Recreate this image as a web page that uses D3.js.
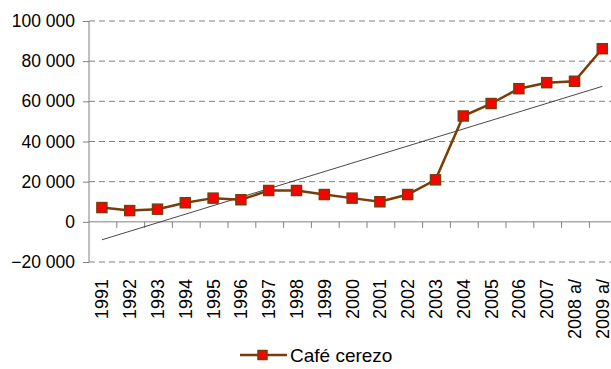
<!DOCTYPE html>
<html><head><meta charset="utf-8">
<script src="https://cdn.jsdelivr.net/npm/d3@7"></script>
<style>body{margin:0;background:#fff}svg{display:block;font-family:"Liberation Sans",Arial,sans-serif}</style>
</head><body>
<svg id="c" width="611" height="369"></svg>
<script>
const categories = ["1991","1992","1993","1994","1995","1996","1997","1998","1999","2000","2001","2002","2003","2004","2005","2006","2007","2008 a/","2009 a/"];
const values = [7100,5600,6300,9500,11800,11000,15600,15600,13600,11800,10000,13600,20900,52700,58900,66300,69300,70000,86200];
const yTicks = [-20000,0,20000,40000,60000,80000,100000];
const seriesName = "Café cerezo";

const svg = d3.select("#c");
const brown = "#7a3c08";
const x = d3.scaleBand().domain(categories).range([89, 89 + 19*27.8]).padding(0);
const y = d3.scaleLinear().domain([-20000,100000]).range([262, 21]);
const fmt = v => d3.format(",")(v).replace(/,/g, " ");

// gridlines
svg.append("g").selectAll("line").data(yTicks.filter(t => t !== 0)).join("line")
  .attr("x1", 89).attr("x2", 611).attr("y1", d => y(d)).attr("y2", d => y(d))
  .attr("stroke", "#808080").attr("stroke-width", 1).attr("stroke-dasharray", "6,4");

// y axis
const yAxis = d3.axisLeft(y).tickValues(yTicks).tickSize(6).tickFormat(fmt);
const gy = svg.append("g").attr("transform", "translate(89,0)").call(yAxis);
gy.select(".domain").attr("stroke", "#808080").attr("d", `M0,${y(100000)}V${y(-20000)}`);
gy.selectAll(".tick line").attr("stroke", "#808080");
gy.selectAll(".tick text").attr("font-size", "17.5px").attr("fill", "#000").attr("x", -14);

// zero line with category ticks
svg.append("line").attr("x1", 89).attr("x2", 611).attr("y1", y(0)).attr("y2", y(0)).attr("stroke", "#808080");
svg.append("g").selectAll("line").data(categories.slice(1)).join("line")
  .attr("x1", d => x(d)).attr("x2", d => x(d)).attr("y1", y(0)).attr("y2", y(0) + 6)
  .attr("stroke", "#808080");

// x labels
svg.append("g").selectAll("text").data(categories).join("text")
  .attr("transform", d => `translate(${x(d) + x.bandwidth()/2 - 1},279) rotate(-90)`)
  .attr("text-anchor", "end").attr("dy", "0.36em")
  .attr("font-size", "18px").attr("fill", "#000").text(d => d);

// trend line (least squares)
const n = values.length;
const idx = d3.range(n);
const mx = d3.mean(idx), my = d3.mean(values);
const slope = d3.sum(idx, i => (i - mx) * (values[i] - my)) / d3.sum(idx, i => (i - mx) ** 2);
const icpt = my - slope * mx;
const cx = c => x(c) + x.bandwidth()/2 - 1;
svg.append("line")
  .attr("x1", cx(categories[0])).attr("y1", y(icpt))
  .attr("x2", cx(categories[n-1])).attr("y2", y(icpt + slope * (n-1)))
  .attr("stroke", "#333").attr("stroke-width", 0.9);

// series line
const line = d3.line().x((d, i) => cx(categories[i])).y(d => y(d));
svg.append("path").datum(values).attr("d", line)
  .attr("fill", "none").attr("stroke", brown).attr("stroke-width", 2.5);

// markers
svg.append("g").selectAll("rect").data(values).join("rect")
  .attr("x", (d, i) => cx(categories[i]) - 5).attr("y", d => y(d) - 5)
  .attr("width", 10).attr("height", 10)
  .attr("fill", "#ff0000").attr("stroke", brown).attr("stroke-width", 1.5);

// legend
const lg = svg.append("g");
lg.append("line").attr("x1", 240).attr("x2", 287).attr("y1", 355).attr("y2", 355)
  .attr("stroke", brown).attr("stroke-width", 2.5);
lg.append("rect").attr("x", 258).attr("y", 350.5).attr("width", 9).attr("height", 9)
  .attr("fill", "#ff0000").attr("stroke", brown).attr("stroke-width", 1.5);
lg.append("text").attr("x", 290).attr("y", 355).attr("dy", "0.36em")
  .attr("font-size", "19px").attr("fill", "#000").text(seriesName);
</script>
</body></html>
